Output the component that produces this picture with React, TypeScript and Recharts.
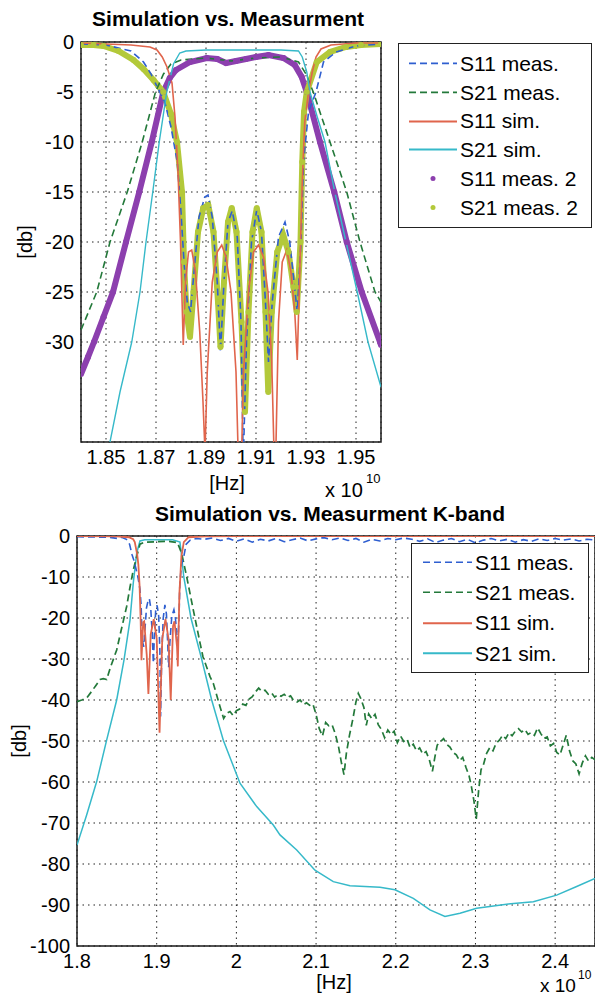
import React from 'react';
import { LineChart, Line, XAxis, YAxis, CartesianGrid, ReferenceArea, Legend } from 'recharts';

const FONT = '"Liberation Sans", Arial, Helvetica, sans-serif';

// frequency in units of 1e10 Hz, level in dB
type Pt = { f: number; db: number };
const pts = (a: number[][]): Pt[] => a.map(([f, db]) => ({ f, db }));

// ---------- top chart (passband zoom) ----------
const topXTicks = [1.85, 1.87, 1.89, 1.91, 1.93, 1.95];
const topYTicks = [-30, -25, -20, -15, -10, -5, 0];

const topS11Meas = pts([
  [1.84, -0.2], [1.85, -0.3], [1.86, -0.9], [1.865, -2], [1.868, -3.2], [1.8705, -4.5], [1.8735, -6],
  [1.876, -8.5], [1.8785, -12], [1.88, -17], [1.8812, -22], [1.8825, -26], [1.8838, -27], [1.8852, -23],
  [1.8872, -17.5], [1.8895, -15.5], [1.8908, -15.3], [1.8925, -17.5], [1.8945, -24], [1.8958, -31],
  [1.8972, -24], [1.8988, -18], [1.9005, -16.9], [1.9025, -19.5], [1.904, -28], [1.9049, -42],
  [1.9062, -30], [1.9082, -20], [1.9103, -16.8], [1.9122, -19], [1.914, -27], [1.915, -32], [1.9165, -26],
  [1.919, -19.5], [1.9216, -18], [1.9235, -20], [1.9252, -24], [1.9265, -27], [1.928, -20], [1.929, -12],
  [1.931, -7], [1.934, -5], [1.937, -2], [1.942, -1], [1.95, -0.4], [1.96, -0.2],
]);

const topS21Meas = pts([
  [1.84, -28.8], [1.8463, -25], [1.8516, -20], [1.8585, -15], [1.8645, -10], [1.8698, -5], [1.873, -3.2],
  [1.876, -2.2], [1.88, -1.8], [1.89, -1.6], [1.9, -1.9], [1.91, -1.6], [1.92, -1.5], [1.927, -2],
  [1.93, -3.2], [1.9329, -5], [1.9396, -10], [1.9463, -15], [1.9516, -20], [1.9576, -25], [1.96, -26],
]);

const topS11Sim = pts([
  [1.84, -0.1], [1.85, -0.2], [1.86, -0.3], [1.8676, -0.5], [1.8704, -0.8], [1.8725, -1.5], [1.8744, -2.5],
  [1.8764, -4.1], [1.8776, -7.5], [1.8788, -13], [1.8798, -20], [1.8809, -30.3], [1.8818, -24],
  [1.883, -21], [1.8843, -20.8], [1.8858, -23], [1.8875, -29], [1.8888, -36], [1.8896, -41], [1.8905, -33],
  [1.8925, -24], [1.8945, -21], [1.8963, -20.3], [1.898, -21.5], [1.9, -25], [1.902, -33], [1.9036, -48],
  [1.905, -33], [1.907, -25], [1.909, -21], [1.911, -20.3], [1.913, -21.5], [1.9148, -25], [1.9163, -32],
  [1.9176, -45], [1.919, -28], [1.9205, -22], [1.9223, -20.8], [1.924, -23], [1.9255, -27], [1.9265, -31.8],
  [1.9275, -23], [1.9285, -14], [1.9295, -8], [1.931, -5], [1.9325, -3], [1.934, -1.5], [1.936, -0.7],
  [1.94, -0.3], [1.95, -0.1], [1.96, -0.1],
]);

const topS21Sim = pts([
  [1.845, -48], [1.8516, -40], [1.8556, -35], [1.8603, -30], [1.8636, -25], [1.866, -20], [1.8687, -15],
  [1.8713, -10], [1.8743, -5], [1.877, -2.2], [1.8795, -1.1], [1.882, -0.9], [1.89, -0.8], [1.9, -0.8],
  [1.91, -0.8], [1.92, -0.8], [1.927, -0.9], [1.9285, -1.5], [1.9303, -3], [1.9316, -5], [1.9345, -7.5],
  [1.9376, -10], [1.9415, -15], [1.946, -20], [1.9505, -25], [1.9548, -30], [1.96, -34.5],
]);

const topS11Meas2 = pts([
  [1.84, -33.2], [1.8428, -31.5], [1.8452, -30], [1.849, -27.5], [1.8528, -25], [1.858, -20],
  [1.8633, -15], [1.8683, -10], [1.8729, -5], [1.8755, -3.6], [1.878, -2.8], [1.8836, -2], [1.8903, -1.6],
  [1.8945, -1.7], [1.898, -2.1], [1.902, -1.9], [1.906, -1.7], [1.91, -1.5], [1.915, -1.3], [1.921, -1.6],
  [1.9255, -2.3], [1.9283, -3.5], [1.9303, -5], [1.9356, -10], [1.9413, -15], [1.9463, -20],
  [1.9523, -25], [1.9596, -30], [1.96, -30.3],
]);

const topS21Meas2 = pts([
  [1.84, -0.3], [1.845, -0.3], [1.849, -0.4], [1.855, -0.9], [1.861, -1.8], [1.865, -2.7], [1.869, -3.8],
  [1.8729, -5], [1.876, -7.2], [1.8784, -10], [1.8804, -15], [1.8812, -22], [1.8822, -27], [1.8836, -29.5],
  [1.885, -25], [1.8868, -19], [1.8889, -16.6], [1.8909, -16.3], [1.893, -19], [1.8948, -26], [1.8958, -30.5],
  [1.8972, -24], [1.8988, -18], [1.9003, -16.6], [1.9022, -19], [1.9042, -28], [1.9056, -37], [1.907, -27],
  [1.9086, -19], [1.9103, -16.6], [1.9122, -19], [1.9138, -27], [1.9149, -35], [1.9163, -27], [1.9185, -21],
  [1.9209, -19.3], [1.923, -21], [1.925, -24.5], [1.9263, -27], [1.9278, -20], [1.9285, -12], [1.9292, -7],
  [1.9303, -5], [1.9343, -2], [1.9396, -1], [1.946, -0.5], [1.952, -0.3], [1.96, -0.2],
]);

// ---------- bottom chart (K-band) ----------
const kXTicks = [1.8, 1.9, 2, 2.1, 2.2, 2.3, 2.4];
const kYTicks = [-100, -90, -80, -70, -60, -50, -40, -30, -20, -10, 0];

const kS11Meas = pts([
  [1.8, -0.2], [1.84, -0.3], [1.851, -0.6], [1.856, -0.3], [1.862, -0.8], [1.866, -2], [1.869, -4.5],
  [1.8715, -6], [1.874, -8], [1.8765, -10], [1.879, -13], [1.8805, -17], [1.8812, -22], [1.8825, -26],
  [1.8838, -27], [1.8852, -23], [1.8872, -17.5], [1.8895, -15.5], [1.8908, -15.3], [1.8925, -17.5],
  [1.8945, -24], [1.8958, -31], [1.8972, -24], [1.8988, -18], [1.9005, -16.9], [1.9025, -19.5],
  [1.904, -28], [1.9049, -44], [1.9062, -30], [1.9082, -20], [1.9103, -16.8], [1.9122, -19], [1.914, -27],
  [1.915, -32], [1.9165, -26], [1.919, -19.5], [1.9216, -18], [1.9235, -20], [1.9252, -24], [1.9265, -27],
  [1.928, -20], [1.929, -12], [1.931, -7], [1.934, -5], [1.937, -2], [1.942, -1], [1.95, -0.6],
  [1.96, -0.8], [1.97, -0.5], [1.98, -1.1], [1.99, -0.6], [2.0, -1.3], [2.01, -0.7], [2.02, -1.5],
  [2.03, -0.8], [2.04, -1.2], [2.05, -0.6], [2.06, -1.4], [2.07, -0.9], [2.08, -0.5], [2.09, -1.2],
  [2.1, -0.7], [2.11, -0.4], [2.12, -0.9], [2.13, -0.5], [2.14, -1.1], [2.15, -0.6], [2.16, -1.5],
  [2.17, -0.8], [2.18, -1.2], [2.19, -0.6], [2.2, -0.9], [2.21, -0.5], [2.22, -0.8], [2.23, -1.3],
  [2.24, -0.7], [2.25, -1.6], [2.26, -1.0], [2.27, -0.6], [2.28, -1.4], [2.29, -0.8], [2.3, -1.7],
  [2.31, -1.0], [2.32, -0.6], [2.33, -1.2], [2.34, -0.8], [2.35, -1.5], [2.36, -0.9], [2.37, -1.3],
  [2.38, -0.7], [2.39, -1.1], [2.4, -0.6], [2.41, -1.0], [2.42, -0.7], [2.43, -1.2], [2.44, -0.8], [2.45, -1.0],
]);

const kS21Meas = pts([
  [1.8, -40.4], [1.806, -40], [1.8122, -39.5], [1.818, -38], [1.8235, -36.5], [1.8289, -35], [1.833, -34.8],
  [1.8372, -35], [1.842, -32], [1.8498, -27.8], [1.856, -22.5], [1.8623, -17.2], [1.8665, -12.5],
  [1.8706, -8.3], [1.8749, -5], [1.879, -2], [1.885, -1.5], [1.9, -1.4], [1.915, -1.3], [1.926, -1.6],
  [1.9313, -4.2], [1.9376, -9.9], [1.9459, -18], [1.9543, -26], [1.958, -29.4], [1.9669, -34.3],
  [1.971, -35.9], [1.9794, -41.6], [1.984, -44.5], [1.988, -43.2], [1.992, -42.8], [1.996, -43.8],
  [2.0, -42.6], [2.004, -42.2], [2.008, -41.0], [2.012, -41.3], [2.016, -39.8], [2.02, -39.2], [2.024, -38.0],
  [2.028, -37.1], [2.032, -37.9], [2.036, -37.6], [2.04, -38.6], [2.044, -38.2], [2.048, -39.3],
  [2.052, -38.7], [2.056, -39.1], [2.06, -38.6], [2.064, -39.4], [2.068, -39.0], [2.072, -40.2],
  [2.076, -40.5], [2.08, -40.0], [2.084, -41.1], [2.088, -40.7], [2.092, -41.3], [2.096, -41.0],
  [2.1, -43.5], [2.104, -47.0], [2.108, -48.8], [2.112, -45.5], [2.116, -46.3], [2.12, -46.0],
  [2.124, -48.2], [2.128, -51.2], [2.132, -55.5], [2.135, -58.2], [2.138, -53.0], [2.142, -48.5],
  [2.146, -44.8], [2.15, -40.5], [2.153, -38.4], [2.156, -39.6], [2.16, -41.8], [2.163, -46.2],
  [2.166, -43.4], [2.17, -44.6], [2.174, -43.5], [2.178, -46.0], [2.182, -47.2], [2.186, -49.2],
  [2.19, -47.3], [2.194, -48.4], [2.198, -47.6], [2.202, -50.4], [2.206, -48.8], [2.21, -50.1],
  [2.214, -49.5], [2.218, -51.6], [2.222, -50.8], [2.226, -52.4], [2.23, -51.7], [2.234, -53.2],
  [2.238, -52.6], [2.242, -54.5], [2.246, -57.4], [2.249, -54.0], [2.252, -51.0], [2.256, -50.2],
  [2.26, -49.4], [2.264, -50.8], [2.268, -51.5], [2.272, -52.8], [2.276, -53.4], [2.28, -54.8],
  [2.284, -54.0], [2.288, -56.4], [2.292, -58.5], [2.295, -61.2], [2.298, -64.5], [2.301, -69.0],
  [2.304, -62.0], [2.307, -57.0], [2.31, -55.8], [2.314, -53.0], [2.318, -51.6], [2.322, -52.4],
  [2.326, -50.5], [2.33, -49.8], [2.334, -48.6], [2.338, -49.4], [2.342, -48.0], [2.346, -48.7],
  [2.35, -47.6], [2.354, -47.0], [2.358, -47.8], [2.362, -47.2], [2.366, -48.4], [2.37, -47.9],
  [2.374, -48.6], [2.378, -46.8], [2.382, -48.2], [2.386, -49.4], [2.39, -49.0], [2.394, -51.2],
  [2.398, -50.6], [2.402, -52.8], [2.406, -53.4], [2.41, -51.0], [2.414, -48.6], [2.418, -52.4],
  [2.422, -54.8], [2.426, -55.6], [2.43, -58.0], [2.434, -55.4], [2.438, -53.6], [2.442, -54.9],
  [2.446, -54.0], [2.45, -54.6],
]);

const kS11Sim = pts([
  [1.8, 0], [1.85, -0.1], [1.865, -0.3], [1.8705, -0.8], [1.8725, -1.5], [1.8755, -4.5], [1.877, -7],
  [1.8785, -12], [1.8798, -20], [1.8809, -30.3], [1.883, -21], [1.8843, -20.8], [1.8875, -29],
  [1.8896, -38.5], [1.8925, -24], [1.8963, -20.3], [1.9, -25], [1.9036, -48], [1.907, -25], [1.911, -20.3],
  [1.9148, -25], [1.9176, -40], [1.9205, -22], [1.9223, -20.8], [1.9255, -27], [1.9265, -31.8],
  [1.9285, -14], [1.931, -5], [1.934, -1.5], [1.94, -0.3], [1.96, -0.1], [2.0, 0], [2.45, 0],
]);

const kS21Sim = pts([
  [1.8, -75.4], [1.8122, -68], [1.8247, -59.9], [1.8372, -49.8], [1.8498, -40], [1.859, -30.2],
  [1.8665, -20.5], [1.8706, -11.5], [1.8749, -4.2], [1.879, -1.2], [1.885, -0.9], [1.92, -0.9],
  [1.9292, -1.5], [1.9313, -5], [1.934, -10], [1.943, -20], [1.9564, -30], [1.969, -40], [1.9836, -49.8],
  [2.0045, -60.3], [2.0255, -66], [2.0463, -70.5], [2.0547, -72.9], [2.0757, -76.6], [2.0986, -81.5],
  [2.1216, -84.3], [2.1425, -85.3], [2.1802, -85.7], [2.199, -86.3], [2.222, -88.4], [2.2429, -91.2],
  [2.2617, -92.8], [2.2806, -92], [2.3015, -90.8], [2.3391, -89.8], [2.3726, -89.2], [2.4019, -87.6],
  [2.427, -85.5], [2.45, -83.5],
]);

const BLUE = '#2f5fd0';
const GREEN = '#23793a';
const RED = '#e0654c';
const CYAN = '#36b9c9';
const PURPLE = '#8c3fae';
const LIME = '#b3c93a';

type LegendItem = { name: string; color: string; kind: 'dash' | 'line' | 'dot' };

const topLegend: LegendItem[] = [
  { name: 'S11 meas.', color: BLUE, kind: 'dash' },
  { name: 'S21 meas.', color: GREEN, kind: 'dash' },
  { name: 'S11 sim.', color: RED, kind: 'line' },
  { name: 'S21 sim.', color: CYAN, kind: 'line' },
  { name: 'S11 meas. 2', color: PURPLE, kind: 'dot' },
  { name: 'S21 meas. 2', color: LIME, kind: 'dot' },
];
const kLegend = topLegend.slice(0, 4);

const LegendBox = ({ items, width, rowH, padTop, sampleL, sampleW }: {
  items: LegendItem[]; width: number; rowH: number; padTop: number; sampleL: number; sampleW: number;
}) => (
  <div style={{ width, boxSizing: 'border-box', border: '1.5px solid #222', background: '#fff',
    paddingTop: padTop, paddingBottom: padTop, fontFamily: FONT, fontSize: 21, color: '#000' }}>
    {items.map(it => (
      <div key={it.name} style={{ display: 'flex', alignItems: 'center', height: rowH }}>
        <svg width={sampleL + sampleW + 3} height={rowH} style={{ flex: 'none' }}>
          {it.kind === 'dot' ? (
            <circle cx={sampleL + sampleW / 2} cy={rowH / 2} r={2.5} fill={it.color} />
          ) : (
            <line x1={sampleL} x2={sampleL + sampleW} y1={rowH / 2} y2={rowH / 2} stroke={it.color}
              strokeWidth={it.kind === 'line' ? 2 : 1.6} strokeDasharray={it.kind === 'dash' ? '7 4' : undefined} />
          )}
        </svg>
        <span style={{ whiteSpace: 'nowrap', lineHeight: 1 }}>{it.name}</span>
      </div>
    ))}
  </div>
);

const tickStyle = { fontSize: 20, fill: '#000', fontFamily: FONT };

const TopChart = () => (
  <LineChart width={595} height={480} margin={{ top: 42, right: 214, bottom: 8, left: 0 }} style={{ fontFamily: FONT }}>
    <CartesianGrid stroke="#222" strokeDasharray="1.5 4" />
    <XAxis dataKey="f" type="number" domain={[1.84, 1.96]} ticks={topXTicks} interval={0} allowDataOverflow
      height={30} tickLine={false} axisLine={false} tick={tickStyle} tickFormatter={(v: number) => v.toFixed(2)} />
    <YAxis type="number" domain={[-40, 0]} ticks={topYTicks} interval={0} allowDataOverflow width={81}
      tickLine={false} axisLine={false} tickSize={0} tickMargin={7} tick={tickStyle} />
    <Line data={topS11Meas2} dataKey="db" stroke={PURPLE} strokeWidth={6} dot={{ r: 3, fill: PURPLE, stroke: 'none' }} isAnimationActive={false} />
    <Line data={topS21Meas2} dataKey="db" stroke={LIME} strokeWidth={6} dot={{ r: 3, fill: LIME, stroke: 'none' }} isAnimationActive={false} />
    <Line data={topS11Meas} dataKey="db" stroke={BLUE} strokeWidth={1.6} strokeDasharray="7 4" dot={false} isAnimationActive={false} />
    <Line data={topS21Meas} dataKey="db" stroke={GREEN} strokeWidth={1.6} strokeDasharray="7 4" dot={false} isAnimationActive={false} />
    <Line data={topS11Sim} dataKey="db" stroke={RED} strokeWidth={1.6} dot={false} isAnimationActive={false} />
    <Line data={topS21Sim} dataKey="db" stroke={CYAN} strokeWidth={1.4} dot={false} isAnimationActive={false} />
    <ReferenceArea x1={1.84} x2={1.96} y1={-40} y2={0} fill="none" stroke="#1a1a1a" strokeWidth={1.5} ifOverflow="visible" />
    <Legend layout="vertical" align="center" verticalAlign="middle"
      wrapperStyle={{ left: 398, top: 43, width: 194, right: 'auto', bottom: 'auto' }}
      content={() => <LegendBox items={topLegend} width={194} rowH={28.8} padTop={5} sampleL={10} sampleW={48} />} />
  </LineChart>
);

const KChart = () => (
  <LineChart width={595} height={495} margin={{ top: 36, right: 0, bottom: 19, left: 0 }} style={{ fontFamily: FONT }}>
    <CartesianGrid stroke="#222" strokeDasharray="1.5 4" />
    <XAxis dataKey="f" type="number" domain={[1.8, 2.45]} ticks={kXTicks} interval={0} allowDataOverflow
      height={30} tickLine={false} axisLine={false} tick={tickStyle} tickFormatter={(v: number) => String(+v.toFixed(1))} />
    <YAxis type="number" domain={[-100, 0]} ticks={kYTicks} interval={0} allowDataOverflow width={77}
      tickLine={false} axisLine={false} tickSize={0} tickMargin={7} tick={tickStyle} />
    <Line data={kS21Sim} dataKey="db" stroke={CYAN} strokeWidth={1.5} dot={false} isAnimationActive={false} />
    <Line data={kS21Meas} dataKey="db" stroke={GREEN} strokeWidth={1.7} strokeDasharray="7 4" dot={false} isAnimationActive={false} />
    <Line data={kS11Meas} dataKey="db" stroke={BLUE} strokeWidth={1.6} strokeDasharray="7 4" dot={false} isAnimationActive={false} />
    <Line data={kS11Sim} dataKey="db" stroke={RED} strokeWidth={1.8} dot={false} isAnimationActive={false} />
    <ReferenceArea x1={1.8} x2={2.45} y1={-100} y2={0} fill="none" stroke="#1a1a1a" strokeWidth={1.5} ifOverflow="visible" />
    <Legend layout="vertical" align="center" verticalAlign="middle"
      wrapperStyle={{ left: 411, top: 43, width: 178, right: 'auto', bottom: 'auto' }}
      content={() => <LegendBox items={kLegend} width={178} rowH={30.4} padTop={3} sampleL={11} sampleW={49} />} />
  </LineChart>
);

export default function App() {
  return (
    <div style={{ position: 'relative', width: 595, height: 995, background: '#fff', overflow: 'hidden' }}>
      <style>{'body{margin:0}'}</style>
      <div style={{ position: 'absolute', left: 0, top: 0 }}>
        <TopChart />
      </div>
      <div style={{ position: 'absolute', left: 0, top: 500 }}>
        <KChart />
      </div>
      <svg width={595} height={995} style={{ position: 'absolute', left: 0, top: 0, pointerEvents: 'none' }}
        fontFamily={FONT} fill="#000">
        <text x={228} y={26} textAnchor="middle" fontSize={21} fontWeight="bold">Simulation vs. Measurment</text>
        <text transform="translate(32,242) rotate(-90)" textAnchor="middle" fontSize={20}>[db]</text>
        <text x={227} y={490} textAnchor="middle" fontSize={20}>[Hz]</text>
        <text x={325} y={497} fontSize={20}>x 10</text>
        <text x={366} y={483} fontSize={13}>10</text>

        <text x={330} y={521} textAnchor="middle" fontSize={21} fontWeight="bold">Simulation vs. Measurment K-band</text>
        <text transform="translate(26,741) rotate(-90)" textAnchor="middle" fontSize={20}>[db]</text>
        <text x={334} y={989} textAnchor="middle" fontSize={20}>[Hz]</text>
        <text x={540} y={992} fontSize={19}>x 10</text>
        <text x={578} y={979} fontSize={12}>10</text>
      </svg>
    </div>
  );
}
